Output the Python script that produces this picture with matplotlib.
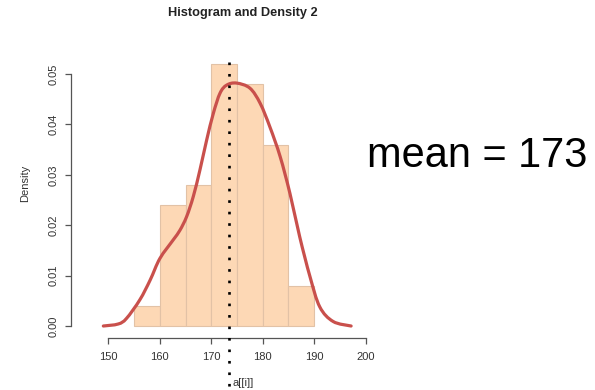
import matplotlib
matplotlib.use("Agg")
import matplotlib.pyplot as plt
import matplotlib.transforms as mtransforms
from matplotlib.path import Path
from matplotlib.patches import PathPatch

# Histogram bins (width 5) and their densities
bin_edges = [155, 160, 165, 170, 175, 180, 185, 190]
bin_density = [0.004, 0.024, 0.028, 0.052, 0.048, 0.036, 0.008]

# Kernel density curve, sampled along x
kde_x = [149.0, 151.9, 153.5, 156.1, 158.1, 160.0, 162.6, 163.9, 165.2, 166.5,
         167.8, 169.1, 170.4, 171.7, 173.0, 174.9, 177.5, 179.5, 181.4, 183.4,
         185.3, 187.2, 189.2, 191.1, 193.7, 197.2]
kde_y = [0.0, 0.0004, 0.0015, 0.0052, 0.0091, 0.0134, 0.0171, 0.0190, 0.0217, 0.0257,
         0.0310, 0.0369, 0.0422, 0.0462, 0.0478, 0.0482, 0.0472, 0.0442, 0.0395, 0.0336,
         0.0263, 0.0177, 0.0098, 0.0038, 0.0009, 0.0]

mean_height = 173.4

x_ticks = [150, 160, 170, 180, 190, 200]
y_ticks = [0.00, 0.01, 0.02, 0.03, 0.04, 0.05]
y_tick_labels = ["0.00", "0.01", "0.02", "0.03", "0.04", "0.05"]

W, H = 595, 390
plt.rcParams["font.family"] = ["Liberation Sans", "DejaVu Sans"]
fig = plt.figure(figsize=(W / 100, H / 100), dpi=100)
fig.patch.set_facecolor("white")


def fx(px):
    return px / W


def fy(py):
    return 1 - py / H


def smooth_path(xs, ys):
    """Cubic Bezier path through the sample points (Catmull-Rom tangents)."""
    pts = list(zip(xs, ys))
    n = len(pts)
    verts = [pts[0]]
    codes = [Path.MOVETO]
    for i in range(n - 1):
        p0 = pts[max(i - 1, 0)]
        p1 = pts[i]
        p2 = pts[i + 1]
        p3 = pts[min(i + 2, n - 1)]
        c1 = (p1[0] + (p2[0] - p0[0]) / 6, p1[1] + (p2[1] - p0[1]) / 6)
        c2 = (p2[0] - (p3[0] - p1[0]) / 6, p2[1] - (p3[1] - p1[1]) / 6)
        verts += [c1, c2, p2]
        codes += [Path.CURVE4] * 3
    return Path(verts, codes)


left_px, right_px, top_px, bottom_px = 70.7, 380.0, 55.0, 337.7
ax = fig.add_axes([fx(left_px), fy(bottom_px), fx(right_px - left_px), (bottom_px - top_px) / H])
ax.set_facecolor("none")
ax.set_xlim(142.65, 202.82)
ax.set_ylim(-0.00232, 0.05377)

widths = [b - a for a, b in zip(bin_edges[:-1], bin_edges[1:])]
ax.bar(bin_edges[:-1], bin_density, width=widths, align="edge",
       color="#fdd8b5", edgecolor="#e2c2a6", linewidth=0.8, zorder=1)

ax.add_patch(PathPatch(smooth_path(kde_x, kde_y), facecolor="none",
                       edgecolor="#c9504c", linewidth=2.3, joinstyle="round",
                       capstyle="round", zorder=3))

# Dotted vertical line at the mean, running past the axis to the bottom edge
trans = mtransforms.blended_transform_factory(ax.transData, fig.transFigure)
ax.plot([mean_height, mean_height], [fy(62), 0.0], transform=trans, clip_on=False,
        color="black", linewidth=1.9, linestyle=(0, (1, 3.35)),
        dash_capstyle="butt", zorder=4)

for side in ("top", "right"):
    ax.spines[side].set_visible(False)
ax.spines["left"].set_bounds(0, 0.05)
ax.spines["bottom"].set_bounds(150, 200)
for side in ("left", "bottom"):
    ax.spines[side].set_color("#555555")
    ax.spines[side].set_linewidth(0.9)

ax.set_xticks(x_ticks)
ax.set_xticklabels([str(t) for t in x_ticks])
ax.set_yticks(y_ticks)
ax.set_yticklabels(y_tick_labels, rotation=90, va="center")
ax.tick_params(axis="both", direction="out", length=4, width=0.9, color="#555555",
               labelsize=8, labelcolor="#333333")
ax.tick_params(axis="x", pad=6)
ax.tick_params(axis="y", pad=5)

fig.text(fx(242.5), fy(13.3), "Histogram and Density 2", ha="center", va="center",
         fontsize=9.2, fontweight="bold", color="#222222")
fig.text(fx(25), fy(183), "Density", ha="center", va="center", rotation=90,
         fontsize=8, color="#333333")
fig.text(fx(243.5), fy(383), "a[[i]]", ha="center", va="center",
         fontsize=8, color="#333333")
fig.text(fx(366.7), fy(167.3), f"mean = {mean_height:.0f}", ha="left", va="baseline",
         fontsize=29.9, color="black")

fig.savefig("out.png", dpi=100, facecolor="white")
